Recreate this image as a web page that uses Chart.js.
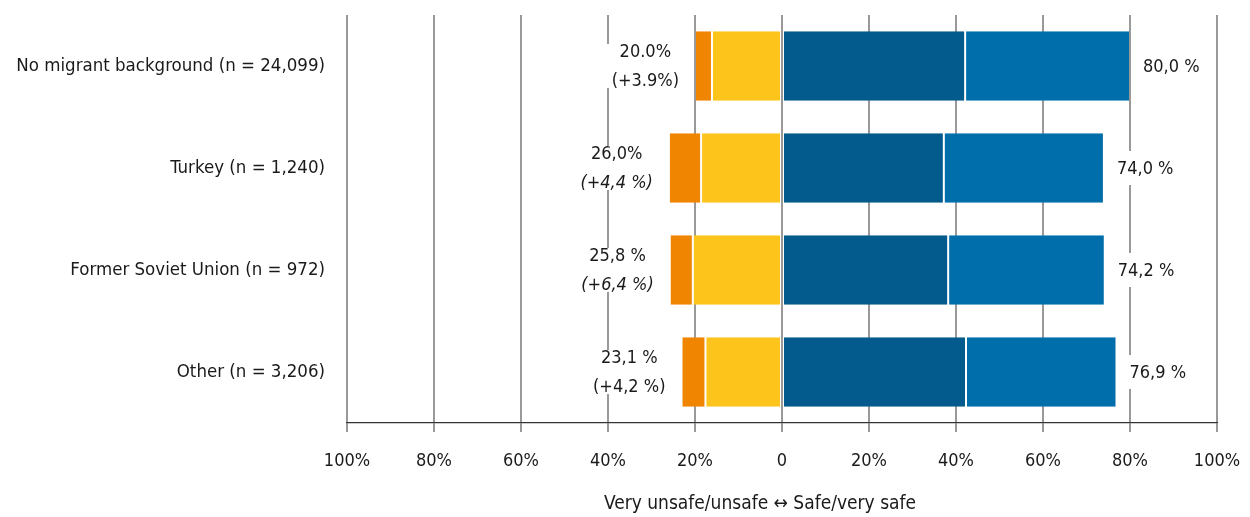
<!DOCTYPE html>
<html>
<head>
<meta charset="utf-8">
<title>Feeling of safety by migrant background</title>
<script src="https://cdn.jsdelivr.net/npm/chart.js@4"></script>
<style>
  html, body { margin: 0; padding: 0; background: #ffffff; }
  #wrap { width: 1250px; height: 517px; }
</style>
</head>
<body>
<div id="wrap"><canvas id="chart" width="1250" height="517"></canvas></div>
<script>
// ---- data ----
const categories = [
  'No migrant background (n = 24,099)',
  'Turkey (n = 1,240)',
  'Former Soviet Union (n = 972)',
  'Other (n = 3,206)'
];
// share feeling very unsafe or unsafe, with the figure given in brackets
const unsafeTotal = [20.0, 26.0, 25.8, 23.1];
const unsafeNote  = [3.9, 4.4, 6.4, 4.2];
// share feeling safe or very safe
const safeTotal   = [80.0, 74.0, 74.2, 76.9];
// outer orange part of the unsafe side, inner dark-blue part of the safe side
const veryUnsafe  = [3.9, 7.4, 5.3, 5.5];
const safe        = [42.1, 37.2, 38.2, 42.3];

const tickValues = [-100, -80, -60, -40, -20, 0, 20, 40, 60, 80, 100];
const tickLabels = ['100%', '80%', '60%', '40%', '20%', '0', '20%', '40%', '60%', '80%', '100%'];
const axisTitle = 'Very unsafe/unsafe \u2194 Safe/very safe';

// number formatting per row (decimal separator, space before %, italic note)
const leftSep    = ['.', ',', ',', ','];
const leftSpace  = [false, false, true, true];
const noteSpace  = [false, true, true, true];
const noteItalic = [false, true, true, false];

// remaining segments follow from the totals
const unsafe   = unsafeTotal.map((t, i) => +(t - veryUnsafe[i]).toFixed(1));
const verySafe = safeTotal.map((t, i) => +(t - safe[i]).toFixed(1));

// ---- styling ----
const FONT = "'DejaVu Sans Condensed', 'Liberation Sans', sans-serif";
const TEXT = '#1a1a1a';
const COLORS = { veryUnsafe: '#ef8500', unsafe: '#fdc41c', safe: '#035a8c', verySafe: '#006eaa' };
const VALUE_SIZE = 18;

function fmt(v, sep, spaced) {
  return v.toFixed(1).replace('.', sep) + (spaced ? ' %' : '%');
}

// value labels on both ends of every bar, on white boxes over the grid
const valueLabels = {
  id: 'valueLabels',
  afterDatasetsDraw(chart) {
    const ctx = chart.ctx;
    const xs = chart.scales.x, ys = chart.scales.y;
    ctx.save();
    ctx.textBaseline = 'middle';
    categories.forEach((c, i) => {
      const yc = ys.getPixelForValue(i);

      // left: total and bracket figure, stacked
      const l1 = fmt(unsafeTotal[i], leftSep[i], leftSpace[i]);
      const l2 = '(+' + fmt(unsafeNote[i], leftSep[i], noteSpace[i]) + ')';
      const f1 = `${VALUE_SIZE}px ${FONT}`;
      const f2 = `${noteItalic[i] ? 'italic ' : ''}${VALUE_SIZE}px ${FONT}`;
      ctx.font = f1; const w1 = ctx.measureText(l1).width;
      ctx.font = f2; const w2 = ctx.measureText(l2).width;
      const bw = Math.max(w1, w2);
      const barStart = xs.getPixelForValue(-unsafeTotal[i]);
      const cx = barStart - 16 - bw / 2;
      ctx.fillStyle = '#ffffff';
      ctx.fillRect(cx - bw / 2 - 6, yc - 22, bw + 12, 44);
      ctx.fillStyle = TEXT;
      ctx.textAlign = 'center';
      ctx.font = f1; ctx.fillText(l1, cx, yc - 14);
      ctx.font = f2; ctx.fillText(l2, cx, yc + 15);

      // right: safe total
      const r = fmt(safeTotal[i], ',', true);
      ctx.font = f1;
      const rw = ctx.measureText(r).width;
      const rx = xs.getPixelForValue(safeTotal[i]) + 13;
      ctx.fillStyle = '#ffffff';
      ctx.fillRect(rx - 6, yc - 17, rw + 12, 34);
      ctx.fillStyle = TEXT;
      ctx.textAlign = 'left';
      ctx.fillText(r, rx, yc + 1);
    });
    ctx.restore();
  }
};

// axis caption below the tick labels
const axisCaption = {
  id: 'axisCaption',
  afterDraw(chart) {
    const ctx = chart.ctx;
    const a = chart.chartArea;
    ctx.save();
    ctx.font = `19px ${FONT}`;
    ctx.fillStyle = TEXT;
    ctx.textAlign = 'center';
    ctx.textBaseline = 'middle';
    ctx.fillText(axisTitle, (a.left + a.right) / 2 - 22, 504);
    ctx.restore();
  }
};

const barStyle = {
  borderColor: 'rgba(0,0,0,0)',
  borderWidth: { left: 1, right: 1, top: 0, bottom: 0 },
  borderSkipped: false,
  barPercentage: 0.68,
  categoryPercentage: 1.0
};

new Chart(document.getElementById('chart'), {
  type: 'bar',
  data: {
    labels: categories,
    datasets: [
      { label: 'Unsafe', data: unsafe.map(v => -v), backgroundColor: COLORS.unsafe, ...barStyle },
      { label: 'Very unsafe', data: veryUnsafe.map(v => -v), backgroundColor: COLORS.veryUnsafe, ...barStyle },
      { label: 'Safe', data: safe, backgroundColor: COLORS.safe, ...barStyle },
      { label: 'Very safe', data: verySafe, backgroundColor: COLORS.verySafe, ...barStyle }
    ]
  },
  options: {
    indexAxis: 'y',
    responsive: false,
    animation: false,
    devicePixelRatio: 1,
    layout: { padding: { top: 15, right: 33, bottom: 0, left: 0 } },
    plugins: {
      legend: { display: false },
      tooltip: { enabled: false },
      title: { display: false }
    },
    scales: {
      x: {
        type: 'linear',
        stacked: true,
        min: -100,
        max: 100,
        afterBuildTicks(scale) { scale.ticks = tickValues.map(v => ({ value: v })); },
        afterFit(scale) {
          scale.height = 94;
          scale.paddingLeft = 0; scale.paddingRight = 0;
          scale.paddingTop = 0; scale.paddingBottom = 0;
        },
        ticks: {
          callback: (v) => tickLabels[tickValues.indexOf(v)],
          font: { family: FONT, size: 18 },
          color: TEXT,
          padding: 19,
          maxRotation: 0,
          autoSkip: false
        },
        grid: {
          color: '#999999',
          lineWidth: 2,
          drawTicks: true,
          tickLength: 9,
          tickColor: '#777777',
          tickWidth: 1.5
        },
        border: { display: true, color: '#333333', width: 1.2 }
      },
      y: {
        type: 'category',
        stacked: true,
        afterFit(scale) {
          scale.width = 347;
          scale.paddingLeft = 0; scale.paddingRight = 0;
          scale.paddingTop = 0; scale.paddingBottom = 0;
        },
        ticks: {
          font: { family: FONT, size: 18.5 },
          color: TEXT,
          padding: 22
        },
        grid: { display: false, drawTicks: false },
        border: { display: false }
      }
    }
  },
  plugins: [valueLabels, axisCaption]
});
</script>
</body>
</html>
